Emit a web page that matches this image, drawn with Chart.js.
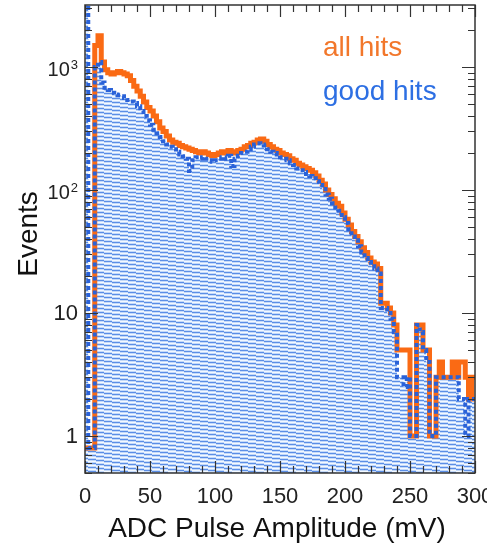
<!DOCTYPE html>
<html>
<head>
<meta charset="utf-8">
<script src="https://cdn.jsdelivr.net/npm/chart.js@4.4.1/dist/chart.umd.min.js"></script>
<style>
  html, body { margin: 0; padding: 0; background: #fff; }
  canvas { display: block; }
</style>
</head>
<body>
<canvas id="adcChart" width="487" height="548"></canvas>
<script>
// histogram binning (mV)
const binWidth = 2.5;

// events per bin
const allHits = [
  0.8, 0.8, 0.8, 1500, 1800, 1100, 950, 900, 880, 900,
  920, 900, 880, 850, 780, 700, 640, 580, 520, 470,
  440, 400, 360, 320, 300, 275, 255, 245, 240, 230,
  225, 220, 215, 210, 205, 200, 205, 200, 195, 190,
  195, 200, 205, 200, 210, 205, 200, 210, 215, 225,
  230, 240, 245, 255, 260, 250, 235, 225, 215, 210,
  200, 195, 190, 180, 175, 165, 160, 155, 150, 145,
  138, 130, 120, 112, 100, 92, 85, 78, 74, 65,
  58, 52, 46, 42, 38, 34, 31, 28, 26, 25,
  23, 12, 12, 11, 10, 8, 5, 5, 5, 5,
  1, 1, 8, 8, 5, 5, 1, 1, 3, 4,
  3, 3, 3, 4, 3, 4, 4, 3, 2, 3
];

const goodHits = [
  5000, 0.8, 0.8, 1000, 1100, 750, 680, 650, 620, 600,
  590, 580, 560, 540, 525, 510, 480, 440, 400, 370,
  340, 310, 290, 270, 250, 235, 225, 215, 205, 195,
  188, 180, 143, 175, 185, 180, 185, 180, 175, 170,
  175, 180, 185, 180, 190, 157, 180, 190, 200, 205,
  215, 225, 235, 240, 235, 230, 215, 205, 200, 195,
  185, 180, 175, 165, 160, 150, 145, 140, 135, 130,
  125, 118, 110, 102, 92, 85, 78, 72, 68, 60,
  54, 48, 42, 39, 35, 31, 28, 26, 24, 23,
  21, 11, 11, 10, 9, 7, 3, 3, 2.5, 3,
  1, 1, 8, 7, 5, 4, 1, 1, 3, 3,
  3, 3, 3, 3, 3, 2, 2, 1, 2, 2
];

const yTickValues = [1, 10, 100, 1000];
const yTickLabels = ['1', '10', '10^2', '10^3'];

const FONT = '"Liberation Sans", Arial, Helvetica, sans-serif';

// histogram as step points at bin lower edges + closing edge
function toSteps(values) {
  const pts = values.map((v, i) => ({ x: i * binWidth, y: v }));
  pts.push({ x: values.length * binWidth, y: values[values.length - 1] });
  return pts;
}

// shallow hatch like the ROOT fill
function hatchPattern(ctx) {
  const pc = document.createElement('canvas');
  pc.width = 32; pc.height = 4;
  const p = pc.getContext('2d');
  p.fillStyle = '#c4dafa';
  p.fillRect(0, 0, 32, 4);
  for (let x = 0; x < 32; x++) {
    const yy = Math.floor(x / 8);
    p.fillStyle = '#5b8ee6';
    p.fillRect(x, yy, 1, 1);
    p.fillStyle = '#f4f9ff';
    p.fillRect(x, (yy + 2) % 4, 1, 1);
  }
  return ctx.createPattern(pc, 'repeat');
}

const frame = {
  id: 'frame',
  afterDraw(chart) {
    const { ctx, chartArea: a, scales: { x, y } } = chart;
    ctx.save();
    ctx.strokeStyle = '#333';
    ctx.lineWidth = 1.2;
    ctx.beginPath();
    for (let v = 0; v <= 300; v += 10) {
      const px = Math.round(x.getPixelForValue(v)) + 0.5;
      const len = v % 50 === 0 ? 12 : 7;
      ctx.moveTo(px, a.bottom); ctx.lineTo(px, a.bottom - len);
      ctx.moveTo(px, a.top); ctx.lineTo(px, a.top + len);
    }
    for (let d = -1; d <= 3; d++) {
      for (let m = 1; m <= 9; m++) {
        const v = m * Math.pow(10, d);
        if (v < y.min || v > y.max) continue;
        const py = Math.round(y.getPixelForValue(v)) + 0.5;
        const len = m === 1 ? 13 : 7;
        ctx.moveTo(a.left, py); ctx.lineTo(a.left + len, py);
        ctx.moveTo(a.right, py); ctx.lineTo(a.right - len, py);
      }
    }
    ctx.stroke();
    ctx.lineWidth = 1.5;
    ctx.strokeRect(a.left, a.top, a.right - a.left, a.bottom - a.top);

    // y tick labels (base + superscript exponent)
    ctx.fillStyle = '#222';
    ctx.textAlign = 'right';
    const labelRight = a.left - 7;
    y.ticks.forEach(t => {
      const i = yTickValues.indexOf(t.value);
      if (i < 0) return;
      const py = y.getPixelForValue(t.value);
      const [base, exp] = yTickLabels[i].split('^');
      if (exp) {
        ctx.font = '13px ' + FONT;
        ctx.textBaseline = 'alphabetic';
        ctx.fillText(exp, labelRight, py + 2);
        const w = ctx.measureText(exp).width;
        ctx.font = '20px ' + FONT;
        ctx.textBaseline = 'middle';
        ctx.fillText(base, labelRight - w - 1, py + 3);
      } else {
        ctx.font = '22px ' + FONT;
        ctx.textBaseline = 'middle';
        ctx.fillText(base, labelRight, py + 1);
      }
    });

    // legend text
    ctx.font = '28px ' + FONT;
    ctx.textAlign = 'left';
    ctx.textBaseline = 'alphabetic';
    ctx.fillStyle = '#f2772b';
    ctx.fillText('all hits', 323, 56);
    ctx.fillStyle = '#2d6fe3';
    ctx.fillText('good hits', 323, 100);

    // axis titles
    ctx.fillStyle = '#111';
    ctx.textAlign = 'center';
    ctx.fillText('ADC Pulse Amplitude (mV)', 277, 537);
    ctx.translate(37, 234);
    ctx.rotate(-Math.PI / 2);
    ctx.fillText('Events', 0, 0);
    ctx.restore();
  }
};

const ctx = document.getElementById('adcChart').getContext('2d');

new Chart(ctx, {
  type: 'line',
  data: {
    datasets: [
      {
        label: 'good hits',
        data: toSteps(goodHits),
        stepped: true,
        borderColor: '#2a62d8',
        borderWidth: 4,
        borderDash: [4, 3],
        pointRadius: 0,
        fill: 'start',
        backgroundColor: hatchPattern(ctx)
      },
      {
        label: 'all hits',
        data: toSteps(allHits),
        stepped: true,
        borderColor: '#fa6a14',
        borderWidth: 5,
        pointRadius: 0,
        fill: false
      }
    ]
  },
  options: {
    responsive: false,
    animation: false,
    devicePixelRatio: 1,
    layout: { padding: { top: 5, right: 12, left: 0, bottom: 0 } },
    plugins: {
      legend: { display: false },
      tooltip: { enabled: false },
      filler: { drawTime: 'beforeDatasetsDraw' }
    },
    scales: {
      x: {
        type: 'linear',
        min: 0,
        max: 300,
        grid: { display: false },
        border: { display: false },
        ticks: {
          stepSize: 50,
          padding: 3,
          color: '#222',
          font: { family: FONT, size: 22 },
          maxRotation: 0
        },
        afterFit(scale) {
          scale.height = 75;
          scale.paddingLeft = 0;
          scale.paddingRight = 0;
        }
      },
      y: {
        type: 'logarithmic',
        min: 0.5,
        max: 3200,
        grid: { display: false },
        border: { display: false },
        afterBuildTicks(scale) {
          scale.ticks = yTickValues.map(v => ({ value: v }));
        },
        ticks: { display: false },
        afterFit(scale) {
          scale.width = 85;
          scale.paddingTop = 0;
          scale.paddingBottom = 0;
        }
      }
    }
  },
  plugins: [frame]
});
</script>
</body>
</html>
